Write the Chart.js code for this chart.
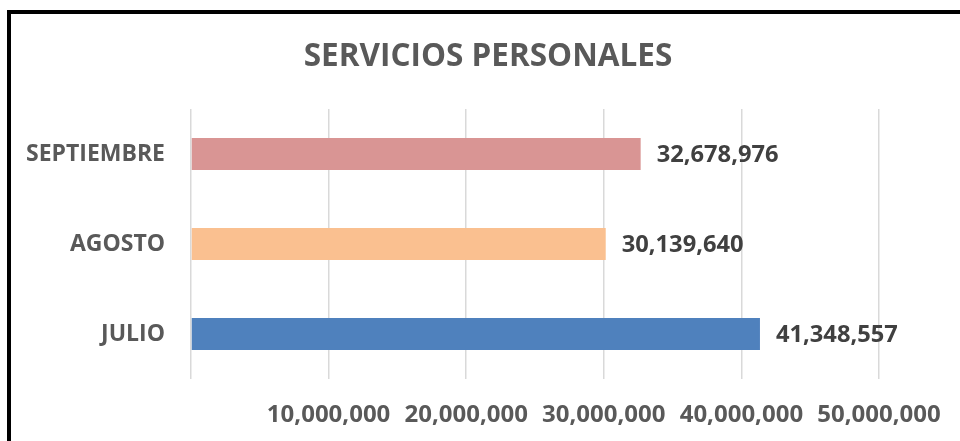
<!DOCTYPE html>
<html>
<head>
<meta charset="utf-8">
<script src="https://cdn.jsdelivr.net/npm/chart.js@4/dist/chart.umd.min.js"></script>
<style>
  html, body { margin: 0; padding: 0; width: 960px; height: 441px; overflow: hidden; background: #fff; }
  .frame { position: absolute; left: 7px; top: 10px; width: 1100px; height: 600px; border: 4px solid #000; box-sizing: border-box; }
  .wrap { position: absolute; left: 0; top: 0; width: 960px; height: 441px; }
</style>
</head>
<body>
<div class="frame"></div>
<div class="wrap"><canvas id="chart"></canvas></div>
<script>
const months = ["SEPTIEMBRE", "AGOSTO", "JULIO"];
const amounts = [32678976, 30139640, 41348557];
const barColors = ["#D99594", "#FAC090", "#4F81BD"];
const xTicks = [0, 10000000, 20000000, 30000000, 40000000, 50000000];
const chartTitle = "SERVICIOS PERSONALES";

const fmt = (v) => v.toLocaleString("en-US");

// title sits centred on the frame, not on the plot area
const titleText = {
  id: "titleText",
  afterDraw(chart) {
    const ctx = chart.ctx;
    ctx.save();
    ctx.font = "bold 31.5px 'Open Sans'";
    ctx.fillStyle = "#595959";
    ctx.textAlign = "center";
    ctx.textBaseline = "middle";
    ctx.fillText(chartTitle, 488, 57);
    ctx.restore();
  },
};

const valueLabels = {
  id: "valueLabels",
  afterDatasetsDraw(chart) {
    const ctx = chart.ctx;
    const meta = chart.getDatasetMeta(0);
    ctx.save();
    ctx.font = "bold 23.7px 'Open Sans'";
    ctx.fillStyle = "#404040";
    ctx.textAlign = "left";
    ctx.textBaseline = "middle";
    meta.data.forEach((bar, i) => {
      ctx.fillText(fmt(amounts[i]), bar.x + 16, bar.y + 1);
    });
    ctx.restore();
  },
};

new Chart(document.getElementById("chart"), {
  type: "bar",
  data: {
    labels: months,
    datasets: [
      {
        data: amounts,
        backgroundColor: barColors,
        categoryPercentage: 1,
        barPercentage: 0.356,
      },
    ],
  },
  plugins: [valueLabels, titleText],
  options: {
    indexAxis: "y",
    responsive: true,
    maintainAspectRatio: false,
    animation: false,
    layout: { padding: { left: 0, right: 81, top: 109, bottom: 0 } },
    plugins: {
      legend: { display: false },
      tooltip: { enabled: false },
      title: { display: false },
    },
    scales: {
      x: {
        min: 0,
        max: 50000000,
        afterBuildTicks: (scale) => {
          scale.ticks = xTicks.map((v) => ({ value: v }));
        },
        afterFit: (scale) => {
          scale.height = 62;
          scale.paddingLeft = 0;
          scale.paddingRight = 0;
        },
        grid: { color: "#D9D9D9", lineWidth: 1.5, drawTicks: false },
        border: { display: false },
        ticks: {
          padding: 22,
          color: "#595959",
          font: { family: "'Open Sans'", size: 24, weight: "bold" },
          callback: (v) => (v === 0 ? "" : fmt(v)),
        },
      },
      y: {
        afterFit: (scale) => {
          scale.width = 191;
        },
        grid: { display: false, drawTicks: false },
        border: { display: false },
        ticks: {
          padding: 26,
          color: "#595959",
          font: { family: "'Open Sans'", size: 23, weight: "bold" },
        },
      },
    },
  },
});
</script>
</body>
</html>
